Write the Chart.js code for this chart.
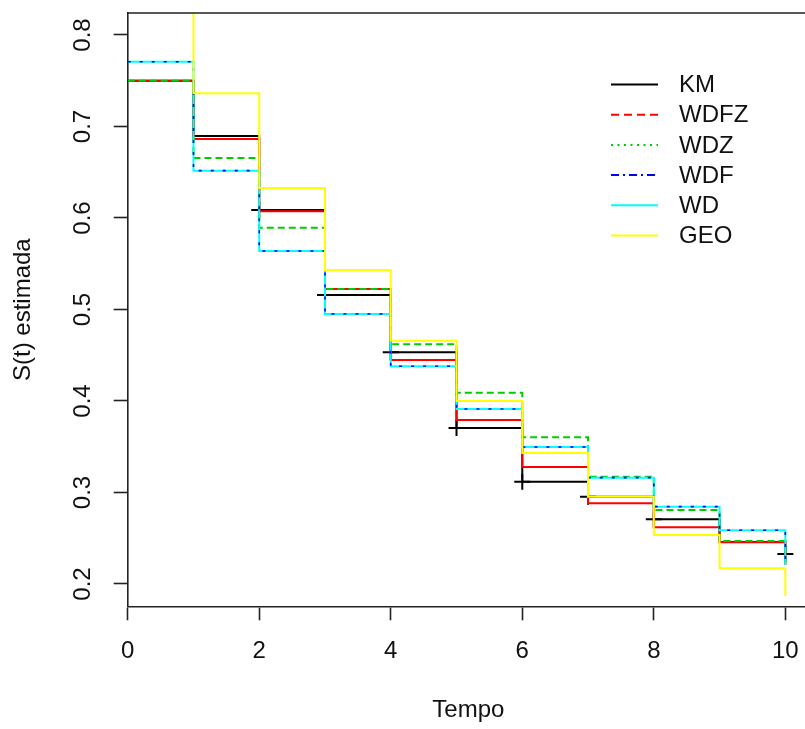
<!DOCTYPE html>
<html>
<head>
<meta charset="utf-8">
<script src="https://cdn.jsdelivr.net/npm/chart.js@4.4.1/dist/chart.umd.min.js"></script>
<style>
  html, body { margin: 0; padding: 0; background: #fff; overflow: hidden; }
  #wrap { width: 809px; height: 729px; }
</style>
</head>
<body>
<div id="wrap"><canvas id="c" width="809" height="729"></canvas></div>
<script>
// ---- data ----
const times = [0, 1, 2, 3, 4, 5, 6, 7, 8, 9, 10];
const seriesNames = ["KM", "WDFZ", "WDZ", "WDF", "WD", "GEO"];
const KM   = [0.750, 0.6896, 0.6087, 0.5158, 0.4532, 0.3705, 0.3118, 0.2954, 0.2707, 0.2460, 0.2328];
const WDFZ = [0.750, 0.6863, 0.6073, 0.5224, 0.4448, 0.3792, 0.3279, 0.2882, 0.2620, 0.2456, 0.2208];
const WDZ  = [0.750, 0.6656, 0.5894, 0.5224, 0.4620, 0.4091, 0.3603, 0.3173, 0.2809, 0.2470, 0.2208];
const WDF  = [0.7708, 0.6517, 0.5639, 0.4951, 0.4379, 0.3913, 0.3497, 0.3162, 0.2845, 0.2587, 0.2208];
const WD   = [0.7708, 0.6517, 0.5639, 0.4951, 0.4379, 0.3913, 0.3497, 0.3162, 0.2845, 0.2587, 0.2208];
const GEO  = [0.870, 0.7363, 0.6328, 0.5432, 0.4659, 0.4000, 0.3432, 0.2954, 0.2536, 0.2171, 0.1869];
const censorTimes = [2, 3, 4, 5, 6, 7, 8, 10];
const xTicks = [0, 2, 4, 6, 8, 10];
const yTicks = [0.2, 0.3, 0.4, 0.5, 0.6, 0.7, 0.8];
const xTitle = "Tempo";
const yTitle = "S(t) estimada";

// ---- styles ----
const FONT = "'Liberation Sans', Arial, sans-serif";
const colors = { KM: "#000000", WDFZ: "#FF0000", WDZ: "#00CD00", WDF: "#0000FF", WD: "#00FFFF", GEO: "#FFFF00" };
const plotDash = { KM: [], WDFZ: [], WDZ: [7, 4], WDF: [3, 9], WD: [], GEO: [] };
const legendDash = { KM: [], WDFZ: [8, 5], WDZ: [2, 4.5], WDF: [8, 4, 2, 4], WD: [], GEO: [] };
const drawOrder = { KM: 6, WDFZ: 5, WDZ: 4, WD: 3, WDF: 2, GEO: 1 };
const values = { KM, WDFZ, WDZ, WDF, WD, GEO };

const toPts = arr => times.map((t, i) => ({ x: t, y: arr[i] }));
const censorPts = censorTimes.map(t => ({ x: t, y: KM[times.indexOf(t)] }));

const datasets = seriesNames.map(n => ({
  label: n,
  data: toPts(values[n]),
  stepped: true,
  borderColor: colors[n],
  backgroundColor: colors[n],
  borderWidth: n === "WDF" ? 1.6 : 2,
  borderDash: plotDash[n],
  pointRadius: 0,
  fill: false,
  order: drawOrder[n]
}));
datasets.push({
  label: "censor",
  type: "scatter",
  data: censorPts,
  showLine: false,
  pointStyle: "cross",
  pointRadius: 8,
  borderColor: "#000",
  borderWidth: 2,
  order: 7
});

const boxPlugin = {
  id: "box",
  afterDraw(chart) {
    const { ctx, chartArea: a } = chart;
    ctx.save();
    ctx.strokeStyle = "#222";
    ctx.lineWidth = 1.6;
    ctx.beginPath();
    ctx.moveTo(a.left, a.top);
    ctx.lineTo(a.right, a.top);
    ctx.lineTo(a.right, a.bottom);
    ctx.stroke();
    ctx.restore();
  }
};

const legendPlugin = {
  id: "rlegend",
  afterDraw(chart) {
    const ctx = chart.ctx;
    const x1 = 611, x2 = 658, tx = 679, y0 = 84.5, dy = 30.2;
    ctx.save();
    ctx.font = "24px " + FONT;
    ctx.textBaseline = "middle";
    ctx.textAlign = "left";
    seriesNames.forEach((n, i) => {
      const y = y0 + i * dy;
      ctx.strokeStyle = colors[n];
      ctx.lineWidth = 2;
      ctx.setLineDash(legendDash[n]);
      ctx.beginPath();
      ctx.moveTo(x1, y);
      ctx.lineTo(x2, y);
      ctx.stroke();
      ctx.setLineDash([]);
      ctx.fillStyle = "#111";
      ctx.fillText(n, tx, y + 1);
    });
    ctx.restore();
  }
};

new Chart(document.getElementById("c"), {
  type: "line",
  data: { datasets },
  plugins: [boxPlugin, legendPlugin],
  options: {
    responsive: false,
    animation: false,
    layout: { autoPadding: false, padding: { top: 13, left: 0, right: 0, bottom: 0 } },
    plugins: { legend: { display: false }, tooltip: { enabled: false } },
    scales: {
      x: {
        type: "linear",
        min: 0,
        max: 10.36,
        afterBuildTicks: s => { s.ticks = xTicks.map(v => ({ value: v })); },
        afterFit: s => { s.height = 122.7; s.paddingLeft = 0; s.paddingRight = 0; },
        grid: { drawOnChartArea: false, drawTicks: true, tickLength: 14, tickColor: "#222", tickWidth: 1.6 },
        border: { display: true, color: "#222", width: 1.6 },
        ticks: { color: "#111", font: { family: FONT, size: 24 }, padding: 17, maxRotation: 0, autoSkip: false },
        title: { display: true, text: xTitle, color: "#111", font: { family: FONT, size: 24 }, padding: { top: 0, bottom: 4.6 } }
      },
      y: {
        type: "linear",
        min: 0.1756,
        max: 0.824,
        afterBuildTicks: s => { s.ticks = yTicks.map(v => ({ value: v })); },
        afterFit: s => { s.width = 127.7; s.paddingTop = 0; s.paddingBottom = 0; },
        grid: { drawOnChartArea: false, drawTicks: true, tickLength: 14, tickColor: "#222", tickWidth: 1.6 },
        border: { display: true, color: "#222", width: 1.6 },
        ticks: {
          color: "#111", font: { family: FONT, size: 24 }, padding: 14,
          minRotation: 90, maxRotation: 90, crossAlign: "center", autoSkip: false,
          callback: v => v.toFixed(1)
        },
        title: { display: true, text: yTitle, color: "#111", font: { family: FONT, size: 24 }, padding: { top: 8.6, bottom: 0 } }
      }
    }
  }
});
</script>
</body>
</html>
